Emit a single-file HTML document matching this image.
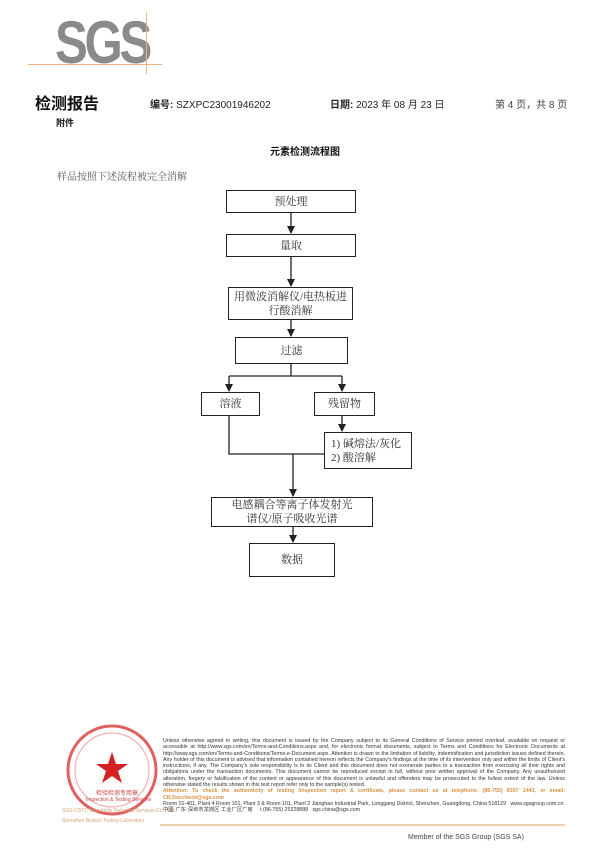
<!DOCTYPE html>
<html><head><meta charset="utf-8"><style>
body{margin:0;width:611px;height:864px;background:#fff;position:relative;overflow:hidden;font-family:"Liberation Sans","Noto Sans CJK SC",sans-serif;color:#222}
.a{position:absolute;white-space:nowrap}
.b{position:absolute;border:1.3px solid #222;box-sizing:border-box;display:flex;align-items:center;justify-content:center;text-align:center;font-family:"Liberation Serif","Noto Serif CJK SC",serif;font-size:11px;line-height:14px;color:#333}
.ft{position:absolute;left:163px;top:738px;width:402px;font-size:5.3px;line-height:6.3px;color:#333;text-align:justify}
</style></head><body>
<div class="a" style="left:55px;top:8px;font-size:60px;font-weight:bold;color:#8a8a8a;letter-spacing:-4px;transform:scaleX(0.82);transform-origin:left;font-family:'Liberation Sans Narrow','Liberation Sans',sans-serif">SGS</div>
<div class="a" style="left:28px;top:64px;width:134px;height:1px;background:#f0b080"></div>
<div class="a" style="left:146px;top:12px;width:1px;height:62px;background:#f0b080"></div>
<div class="a" style="left:35px;top:90px;font-size:16px;font-weight:bold;color:#111">检测报告</div>
<div class="a" style="left:150px;top:96px;font-size:10px;color:#222"><b>编号:</b> SZXPC23001946202</div>
<div class="a" style="left:330px;top:96px;font-size:10px;color:#222"><b>日期:</b> 2023 年 08 月 23 日</div>
<div class="a" style="left:495px;top:96px;font-size:10px;color:#444">第 4 页，共 8 页</div>
<div class="a" style="left:56px;top:116px;font-size:9px;font-weight:bold;color:#111">附件</div>
<div class="a" style="left:270px;top:143px;font-size:10px;font-weight:bold;color:#111">元素检测流程图</div>
<div class="a" style="left:57px;top:168px;font-size:10px;color:#555;font-family:'Liberation Serif','Noto Serif CJK SC',serif">样品按照下述流程被完全消解</div>

<div class="b" style="left:226px;top:190px;width:130px;height:23px">预处理</div>
<div class="b" style="left:226px;top:234px;width:130px;height:23px">量取</div>
<div class="b" style="left:228px;top:287px;width:125px;height:33px">用微波消解仪/电热板进<br>行酸消解</div>
<div class="b" style="left:235px;top:337px;width:113px;height:27px">过滤</div>
<div class="b" style="left:201px;top:392px;width:59px;height:24px">溶液</div>
<div class="b" style="left:314px;top:392px;width:61px;height:24px">残留物</div>
<div class="b" style="left:324px;top:432px;width:88px;height:37px;justify-content:flex-start;padding-left:6px;text-align:left">1) 碱熔法/灰化<br>2) 酸溶解</div>
<div class="b" style="left:211px;top:497px;width:162px;height:30px">电感耦合等离子体发射光<br>谱仪/原子吸收光谱</div>
<div class="b" style="left:249px;top:543px;width:86px;height:34px">数据</div>

<svg class="a" style="left:0;top:0" width="611" height="864">
<defs><marker id="m" markerWidth="8" markerHeight="8" refX="7" refY="4" orient="auto" markerUnits="userSpaceOnUse"><path d="M0,0L8,4L0,8z" fill="#222"/></marker></defs>
<g stroke="#222" stroke-width="1.3" fill="none">
<path d="M291,213V233" marker-end="url(#m)"/>
<path d="M291,257V286" marker-end="url(#m)"/>
<path d="M291,320V336" marker-end="url(#m)"/>
<path d="M291,364V376M229,376H342"/>
<path d="M229,376V391" marker-end="url(#m)"/>
<path d="M342,376V391" marker-end="url(#m)"/>
<path d="M342,416V431" marker-end="url(#m)"/>
<path d="M229,416V454H324"/>
<path d="M293,454V496" marker-end="url(#m)"/>
<path d="M293,527V542" marker-end="url(#m)"/>
</g>
<circle cx="112" cy="770" r="44" fill="none" stroke="#e06060" stroke-width="3"/>
<circle cx="112" cy="770" r="37" fill="none" stroke="#f0a0a0" stroke-width="1"/>
<polygon points="112,752 116,764 128,764 118,771 122,783 112,776 102,783 106,771 96,764 108,764" fill="#d42020"/>
<line x1="160" y1="825" x2="565" y2="825" stroke="#e0a060" stroke-width="1"/>
</svg>
<div class="a" style="left:96px;top:788px;font-size:6px;color:#c44">检验检测专用章</div>
<div class="a" style="left:86px;top:797px;font-size:5px;color:#c44">Inspection &amp; Testing Services</div>
<div class="a" style="left:62px;top:808px;font-size:5px;color:#d8a070">SGS-CSTC Standards Technical Services Co., Ltd.</div>
<div class="a" style="left:62px;top:818px;font-size:5px;color:#d8a070">Shenzhen Branch Testing Laboratory</div>
<div class="ft">Unless otherwise agreed in writing, this document is issued by the Company subject to its General Conditions of Service printed overleaf, available on request or accessible at http://www.sgs.com/en/Terms-and-Conditions.aspx and, for electronic format documents, subject to Terms and Conditions for Electronic Documents at http://www.sgs.com/en/Terms-and-Conditions/Terms-e-Document.aspx. Attention is drawn to the limitation of liability, indemnification and jurisdiction issues defined therein. Any holder of this document is advised that information contained hereon reflects the Company's findings at the time of its intervention only and within the limits of Client's instructions, if any. The Company's sole responsibility is to its Client and this document does not exonerate parties to a transaction from exercising all their rights and obligations under the transaction documents. This document cannot be reproduced except in full, without prior written approval of the Company. Any unauthorized alteration, forgery or falsification of the content or appearance of this document is unlawful and offenders may be prosecuted to the fullest extent of the law. Unless otherwise stated the results shown in this test report refer only to the sample(s) tested.<br><span style="color:#d89040;font-weight:bold">Attention: To check the authenticity of testing /inspection report &amp; certificate, please contact us at telephone: (86-755) 8307 1443, or email: CN.Doccheck@sgs.com</span><br>Room 01-401, Plant 4 Room 101, Plant 3 &amp; Room 101, Plant 2 Jianghao Industrial Park, Longgang District, Shenzhen, Guangdong, China 518129 &nbsp; www.sgsgroup.com.cn<br>中国·广东·深圳市龙岗区 工业厂区厂房 &nbsp;&nbsp;&nbsp; t (86-755) 25328888 &nbsp; sgs.china@sgs.com</div>
<div class="a" style="left:408px;top:834px;font-size:7px;color:#444">Member of the SGS Group (SGS SA)</div>
</body></html>
